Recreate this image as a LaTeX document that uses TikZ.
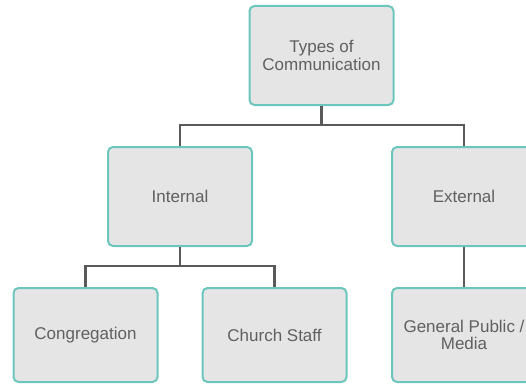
\documentclass[tikz,border=0pt]{standalone}
\usepackage{fontspec}
\setmainfont{Liberation Sans}
\definecolor{boxfill}{HTML}{E5E5E5}
\definecolor{boxedge}{HTML}{6CC6BE}
\definecolor{linkgray}{HTML}{5A5A5A}
\definecolor{labelgray}{HTML}{606060}
\begin{document}
\begin{tikzpicture}[x=1pt,y=-1pt,
  orgbox/.style={draw=boxedge, line width=2pt, fill=boxfill, rounded corners=5pt,
    minimum width=144pt, minimum height=99pt, inner sep=2pt,
    text=labelgray, align=center,
    font=\fontsize{17}{17.3}\selectfont},
  lowbox/.style={orgbox, minimum height=94pt},
  link/.style={draw=linkgray, line width=2.6pt}]
\useasboundingbox (0,0) rectangle (526,385);
\clip (0,0) rectangle (526,385);

% tree of communication types
\node[orgbox] (top) at (321.5,55.5) {Types of\\Communication};
\node[orgbox] (int) at (180,196.5) {Internal};
\node[orgbox] (ext) at (464,196.5) {External};
\node[lowbox] (cong) at (85.5,335) {Congregation};
\node[lowbox] (staff) at (274.5,335) {Church Staff};
\node[lowbox] (pub) at (464,335) {General Public /\\Media};

% connectors
\path[link] (top.south) -- ++(0,19) -| (int.north);
\path[link] (top.south) -- ++(0,19) -| (ext.north);
\path[link] (int.south) -- ++(0,19) -| (cong.north);
\path[link] (int.south) -- ++(0,19) -| (staff.north);
\path[link] (ext.south) -- (pub.north);
\end{tikzpicture}
\end{document}
